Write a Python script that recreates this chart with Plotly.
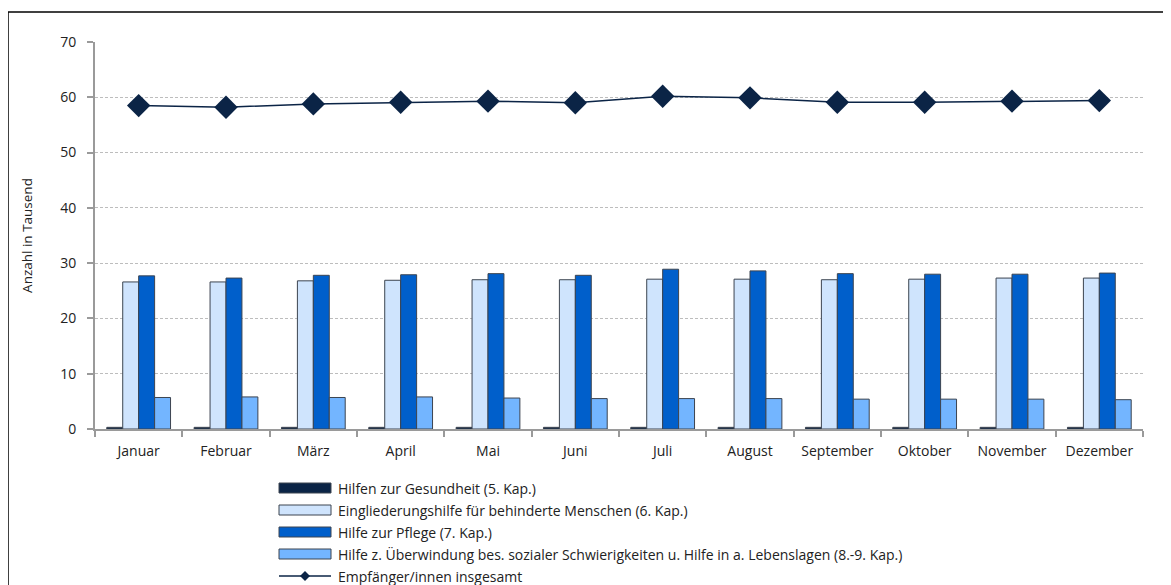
import plotly.graph_objects as go

months = ["Januar", "Februar", "März", "April", "Mai", "Juni", "Juli",
          "August", "September", "Oktober", "November", "Dezember"]
gesundheit = [0.3, 0.3, 0.3, 0.3, 0.3, 0.3, 0.3, 0.3, 0.3, 0.3, 0.3, 0.3]
eingliederung = [26.6, 26.6, 26.8, 26.9, 27.0, 27.0, 27.1, 27.1, 27.0, 27.1, 27.3, 27.3]
pflege = [27.7, 27.3, 27.8, 27.9, 28.1, 27.8, 28.9, 28.6, 28.1, 28.0, 28.0, 28.2]
ueberwindung = [5.7, 5.8, 5.7, 5.8, 5.6, 5.5, 5.5, 5.5, 5.4, 5.4, 5.4, 5.3]
insgesamt = [58.5, 58.2, 58.8, 59.1, 59.3, 59.0, 60.2, 59.9, 59.1, 59.1, 59.3, 59.4]

names = ["Hilfen zur Gesundheit (5. Kap.)",
         "Eingliederungshilfe für behinderte Menschen (6. Kap.)",
         "Hilfe zur Pflege (7. Kap.)",
         "Hilfe z. Überwindung bes. sozialer Schwierigkeiten u. Hilfe in a. Lebenslagen (8.-9. Kap.)",
         "Empfänger/innen insgesamt"]
colors = ["#0b2446", "#cfe4fd", "#005fcb", "#73b5ff"]
line_color = "#0b2446"

OFF = 7  # page offset of the figure inside the window
W, H = 1171, 585
L = 94 - OFF
T = 41 - OFF
pw = 1142 - 94
ph = 428 - 41
R = W - L - pw
B = H - T - ph

def px_x(px):
    return (px - OFF - L) / pw

def px_y(py):
    return (T + ph - (py - OFF)) / ph

fig = go.Figure()
for name, vals, c in zip(names[:4], [gesundheit, eingliederung, pflege, ueberwindung], colors):
    fig.add_trace(go.Bar(x=months, y=vals, name=name, marker_color=c,
                         marker_line=dict(color="#3c4450", width=1)))
fig.add_trace(go.Scatter(x=months, y=insgesamt, name=names[4], mode="lines+markers",
                         line=dict(color=line_color, width=1.5),
                         marker=dict(symbol="diamond", size=18, color=line_color)))

font = "Open Sans, Noto Sans, sans-serif"
fig.update_layout(
    width=W, height=H,
    margin=dict(l=L, r=R, t=T, b=B),
    paper_bgcolor="white", plot_bgcolor="white",
    barmode="group", bargap=0.27, bargroupgap=0,
    showlegend=False,
    font=dict(family=font, size=14, color="#222"),
)
fig.update_xaxes(range=[-0.5, 11.5], showline=True, linecolor="#9a9a9a", linewidth=2,
                 ticks="outside", tickson="boundaries", ticklen=6, tickcolor="#9a9a9a",
                 tickwidth=2, showgrid=False, tickfont=dict(size=14), ticklabelstandoff=8)
fig.update_yaxes(range=[0, 70], dtick=10, showline=True, linecolor="#9a9a9a", linewidth=2,
                 ticks="outside", ticklen=6, tickcolor="#9a9a9a", tickwidth=2,
                 showgrid=True, gridcolor="#bdbdbd", griddash="3px,2px", gridwidth=1,
                 zeroline=False, tickfont=dict(size=14), ticklabelstandoff=8,
                 title=dict(text="Anzahl in Tausend", font=dict(size=13.5), standoff=24))

# outer frame (partial, as in reference)
fig.add_shape(type="line", xref="paper", yref="paper", x0=px_x(7), x1=px_x(7),
              y0=px_y(700), y1=px_y(11), line=dict(color="black", width=1.5))
fig.add_shape(type="line", xref="paper", yref="paper", x0=px_x(7), x1=px_x(1200),
              y0=px_y(11), y1=px_y(11), line=dict(color="black", width=1.5))

# custom legend
row_y = [487, 509, 531, 553, 575]
for i in range(4):
    fig.add_shape(type="rect", xref="paper", yref="paper",
                  x0=px_x(278), x1=px_x(330), y0=px_y(row_y[i] - 5), y1=px_y(row_y[i] + 5),
                  fillcolor=colors[i], line=dict(color="#3c4450", width=1))
fig.add_shape(type="line", xref="paper", yref="paper",
              x0=px_x(278), x1=px_x(330), y0=px_y(row_y[4]), y1=px_y(row_y[4]),
              line=dict(color=line_color, width=1.5))
cx, cy, d = 304, row_y[4], 5
fig.add_shape(type="path", xref="paper", yref="paper",
              path=(f"M {px_x(cx - d)} {px_y(cy)} L {px_x(cx)} {px_y(cy - d)} "
                    f"L {px_x(cx + d)} {px_y(cy)} L {px_x(cx)} {px_y(cy + d)} Z"),
              fillcolor=line_color, line=dict(color=line_color, width=0))
for i, n in enumerate(names):
    fig.add_annotation(xref="paper", yref="paper", x=px_x(335), y=px_y(row_y[i]),
                       xanchor="left", yanchor="middle", text=n, showarrow=False,
                       font=dict(size=14, color="#222"))

fig.write_html("out.html")
